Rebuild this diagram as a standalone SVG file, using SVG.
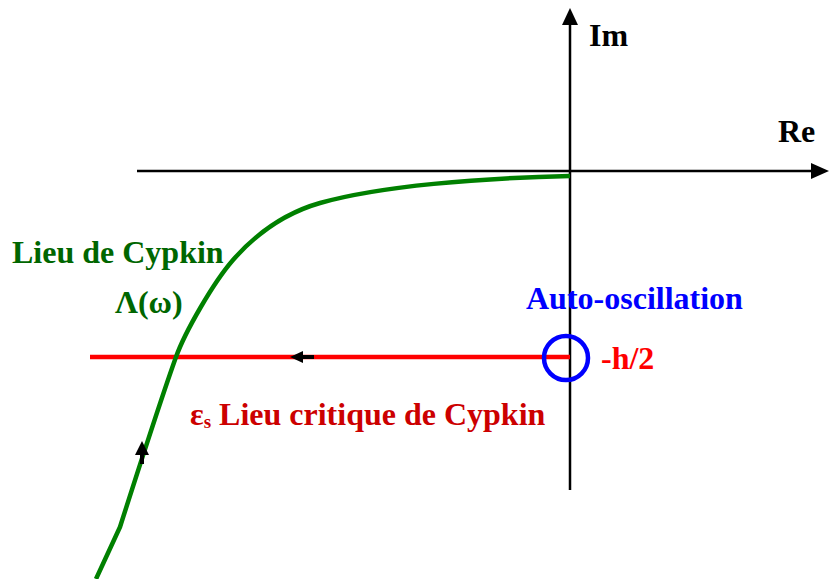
<svg xmlns="http://www.w3.org/2000/svg" width="829" height="579" viewBox="0 0 829 579">
<defs>
<style>
text{font-family:"Liberation Serif","Times New Roman",serif;font-weight:bold;font-size:32px}
.ax{stroke:#000;stroke-width:2.5;fill:none}
.arr{fill:#000}
</style>
</defs>
<rect width="829" height="579" fill="#fff"/>
<g id="connectors">
<path id="re-axis" d="M137,171 H812" class="ax"/>
<path class="arr" d="M829,171 L811,163 L811,179 z"/>
<path id="im-axis" d="M570,490 V25" class="ax"/>
<path class="arr" d="M570,8 L562,25 L578,25 z"/>
<path id="critical" d="M90,357 H570" stroke="#ff0000" stroke-width="4.5" fill="none"/>
<path class="arr" d="M290,357 L303,351 L303,363 z"/>
<path d="M303,357 H314" stroke="#000" stroke-width="4"/>
<path id="cypkin" d="M570,176 C480,178 380,186 320,203 C285,213 255,235 233,260 C213,283 185,332 176,357 C167,382 135,480 120,527 L96,579" stroke="#008000" stroke-width="4.5" fill="none" stroke-linejoin="round"/>
<path class="arr" d="M142,441 L135,455 L149,455 z"/>
<path d="M142,455 V464" stroke="#000" stroke-width="4"/>
</g>
<g id="autooscillation">
<circle cx="566" cy="358" r="22" stroke="#0000ff" stroke-width="4.5" fill="none"/>
</g>
<g id="labels">
<text x="589" y="46" fill="#000">Im</text>
<text x="778" y="142" fill="#000">Re</text>
<text x="12" y="263" fill="#006600">Lieu de Cypkin</text>
<text x="115" y="313" fill="#006600">Λ(ω)</text>
<text x="526" y="309" fill="#0000ff">Auto-oscillation</text>
<text x="601" y="369" fill="#ff0000">-h/2</text>
<text x="190" y="425" fill="#cc0000">ε<tspan font-size="19px" dy="3">s</tspan><tspan dy="-3"> Lieu critique de Cypkin</tspan></text>
</g>
</svg>
